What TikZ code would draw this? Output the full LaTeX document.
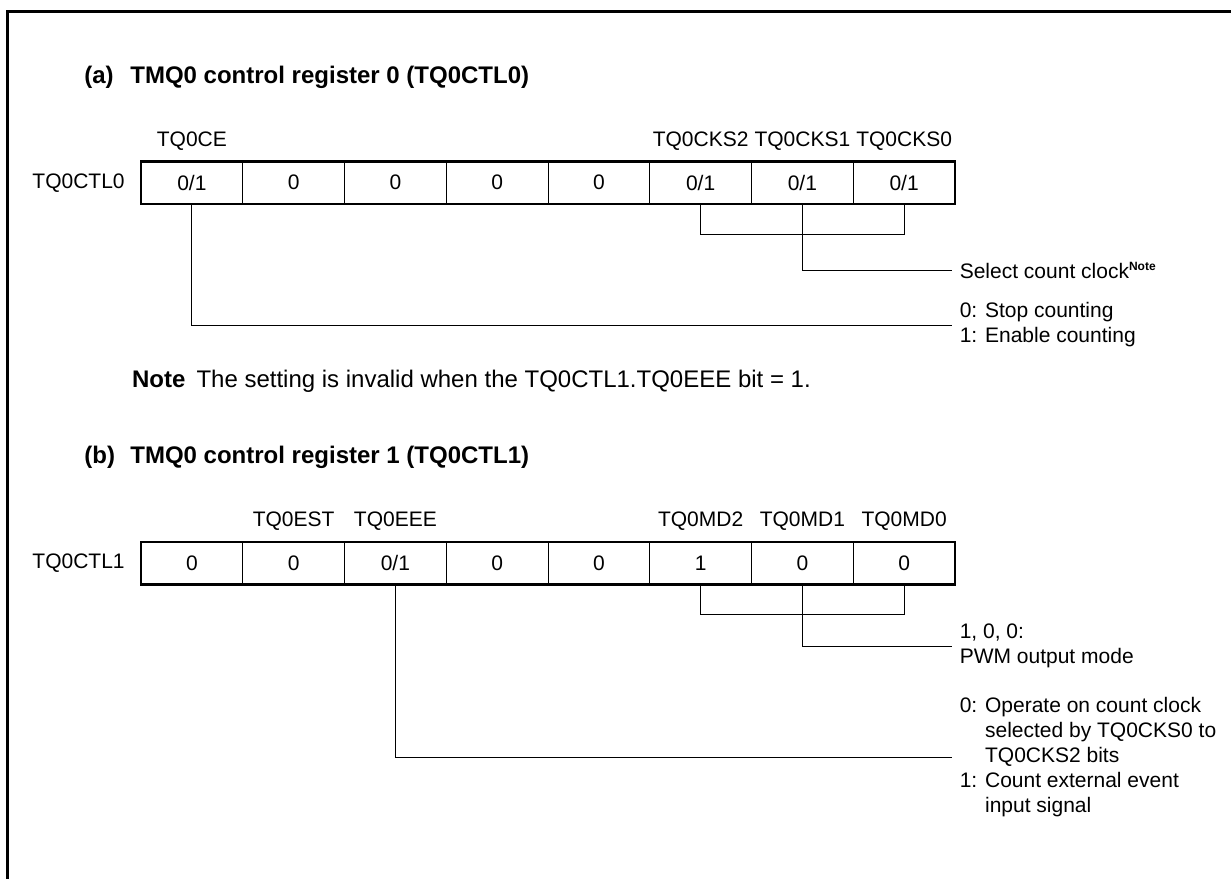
\documentclass[tikz,border=0pt]{standalone}
\usepackage{fontspec}
\setmainfont{Liberation Sans}
\usepackage{tikz}
\usetikzlibrary{positioning}

\begin{document}
\begin{tikzpicture}[x=0.5pt,y=-0.5pt,
   cell/.style={draw,line width=0.5pt,minimum width=50.875pt,minimum height=21.25pt,inner sep=0pt,outer sep=0pt,font=\fontsize{10.5}{12.5}\selectfont},
   bit/.style={inner sep=0pt,anchor=base,font=\fontsize{10.5}{12.5}\selectfont},
   reg/.style={inner sep=0pt,font=\fontsize{10.5}{12.5}\selectfont},
   desc/.style={anchor=west,align=left,inner xsep=3.7pt,inner ysep=0pt,font=\fontsize{10.5}{12.5}\selectfont},
   hd/.style={anchor=base west,inner sep=0pt,font=\fontsize{12}{14}\selectfont\bfseries},
   nt/.style={anchor=base west,inner sep=0pt,font=\fontsize{12}{14}\selectfont},
   box/.style={line width=1.2pt},
   ln/.style={line width=0.5pt},
   frm/.style={line width=1.5pt}]
  \useasboundingbox (0,0) rectangle (1231,879);
  \draw[frm] (1231,11.7) -| (7.5,879);

  \node[hd] (ha) at (84,83.3) {\makebox[23pt][l]{(a)}TMQ0 control register 0 (TQ0CTL0)};
  \node[cell] (a1) at (191.9,182.75) {0/1};
  \node[cell,right=0pt of a1] (a2) {0}; \node[cell,right=0pt of a2] (a3) {0};
  \node[cell,right=0pt of a3] (a4) {0}; \node[cell,right=0pt of a4] (a5) {0};
  \node[cell,right=0pt of a5] (a6) {0/1}; \node[cell,right=0pt of a6] (a7) {0/1};
  \node[cell,right=0pt of a7] (a8) {0/1};
  \draw[box] (a1.north west) rectangle (a8.south east);
  \node[reg,left=8pt of a1] (ra) {TQ0CTL0};
  \node[bit,above=7.4pt of a1,anchor=base] (ce) {TQ0CE};
  \node[bit,above=7.4pt of a6,anchor=base] (ck2) {TQ0CKS2};
  \node[bit,above=7.4pt of a7,anchor=base] (ck1) {TQ0CKS1};
  \node[bit,above=7.4pt of a8,anchor=base] (ck0) {TQ0CKS0};
  \node[desc] (dck) at (952,270) {Select count clock\textsuperscript{\fontsize{6}{7}\selectfont\bfseries Note}};
  \node[desc] (dce) at (952,325) {0: Stop counting\\1: Enable counting};
  \draw[ln] (a6.south) -- ++(0,30) -| (a8.south);
  \draw[ln] (a7.south) |- (dck.west);
  \draw[ln] (a1.south) |- (dce.west);
  \node[nt] (na) at (131.7,387) {\makebox[32.2pt][l]{\bfseries Note}The setting is invalid when the TQ0CTL1.TQ0EEE bit = 1.};

  \node[hd] (hb) at (84,463.3) {\makebox[23pt][l]{(b)}TMQ0 control register 1 (TQ0CTL1)};
  \node[cell] (b1) at (191.9,563.25) {0};
  \node[cell,right=0pt of b1] (b2) {0}; \node[cell,right=0pt of b2] (b3) {0/1};
  \node[cell,right=0pt of b3] (b4) {0}; \node[cell,right=0pt of b4] (b5) {0};
  \node[cell,right=0pt of b5] (b6) {1}; \node[cell,right=0pt of b6] (b7) {0};
  \node[cell,right=0pt of b7] (b8) {0};
  \draw[box] (b1.north west) rectangle (b8.south east);
  \node[reg,left=8pt of b1] (rb) {TQ0CTL1};
  \node[bit,above=7.6pt of b2,anchor=base] (est) {TQ0EST};
  \node[bit,above=7.6pt of b3,anchor=base] (eee) {TQ0EEE};
  \node[bit,above=7.6pt of b6,anchor=base] (md2) {TQ0MD2};
  \node[bit,above=7.6pt of b7,anchor=base] (md1) {TQ0MD1};
  \node[bit,above=7.6pt of b8,anchor=base] (md0) {TQ0MD0};
  \node[desc] (dmd) at (952,646) {1, 0, 0:\\PWM output mode};
  \node[desc] (dee) at (952,757) {0: Operate on count clock\\\hphantom{0: }selected by TQ0CKS0 to\\\hphantom{0: }TQ0CKS2 bits\\1: Count external event\\\hphantom{1: }input signal};
  \draw[ln] (b6.south) -- ++(0,30) -| (b8.south);
  \draw[ln] (b7.south) |- (dmd.west);
  \draw[ln] (b3.south) |- (dee.west);
\end{tikzpicture}
\end{document}
